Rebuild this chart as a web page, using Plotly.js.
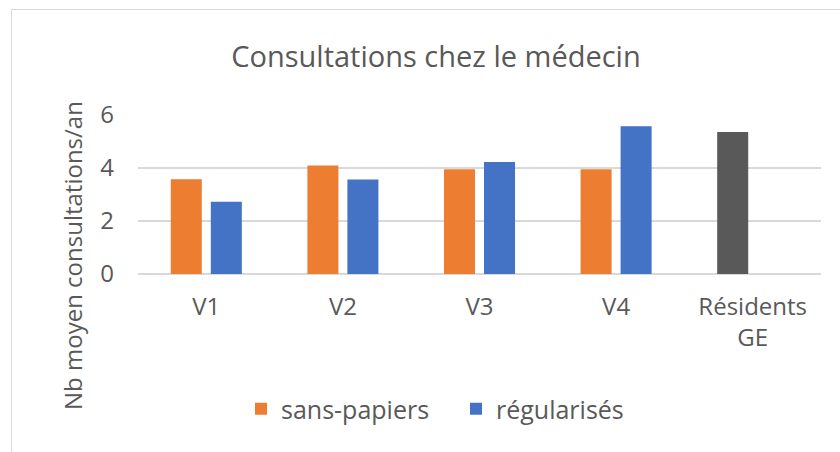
<!DOCTYPE html>
<html>
<head>
<meta charset="utf-8">
<script src="https://cdn.plot.ly/plotly-3.0.1.min.js"></script>
<style>
  html, body { margin: 0; padding: 0; overflow: hidden; background: #fff; }
  #wrap { position: relative; width: 840px; height: 452px; }
  #frame { position: absolute; left: 11px; top: 9px; width: 900px; height: 500px;
           border: 1.5px solid #d9d9d9; pointer-events: none; }
</style>
</head>
<body>
<div id="wrap">
  <div id="chart" style="width:840px;height:452px;"></div>
  <div id="frame"></div>
</div>
<script>
// ---- data ----
const categories = ['V1', 'V2', 'V3', 'V4', 'Résidents<br>GE'];
const sansPapiers = [3.58, 4.09, 3.95, 3.95, 5.36];
const regularises = [2.73, 3.57, 4.23, 5.58, null];
const seriesNames = ['sans-papiers', 'régularisés'];
const title = 'Consultations chez le médecin';
const yTitle = 'Nb moyen consultations/an';

const ORANGE = '#ED7D31', BLUE = '#4472C4', GREY = '#595959';
const orangeColors = categories.map((c, i) => i === categories.length - 1 ? GREY : ORANGE);

const FONT = '"Open Sans", sans-serif';
const TXT = '#595959';

const traces = [
  { type: 'bar', name: seriesNames[0], x: categories, y: sansPapiers,
    marker: { color: orangeColors }, hoverinfo: 'x+y' },
  { type: 'bar', name: seriesNames[1], x: categories, y: regularises,
    marker: { color: BLUE }, hoverinfo: 'x+y' }
];

const layout = {
  width: 840, height: 452,
  margin: { l: 138, r: 19, t: 115, b: 178 },
  paper_bgcolor: '#ffffff', plot_bgcolor: '#ffffff',
  font: { family: FONT, color: TXT, size: 24 },
  title: { text: title, font: { family: FONT, size: 29, color: TXT },
           xref: 'container', x: 0.519, xanchor: 'center',
           yref: 'container', y: 1 - 57 / 452, yanchor: 'middle' },
  barmode: 'group', bargap: 0.414, bargroupgap: 0.225,
  xaxis: { type: 'category', showgrid: false, zeroline: false, showline: false,
           ticks: '', tickfont: { family: FONT, size: 24, color: TXT },
           ticklabelstandoff: 16, fixedrange: true },
  yaxis: { range: [0, 6], dtick: 2, tick0: 0, showgrid: true, gridcolor: '#d9d9d9', gridwidth: 1.5,
           zeroline: true, zerolinecolor: '#d9d9d9', zerolinewidth: 1.5, showline: false,
           ticks: '', tickfont: { family: FONT, size: 24, color: TXT },
           ticklabelstandoff: 23, fixedrange: true },
  showlegend: true,
  legend: { orientation: 'h', xref: 'container', yref: 'container',
            x: 456 / 840, xanchor: 'center', y: 1 - 409 / 452, yanchor: 'middle',
            entrywidth: 170, entrywidthmode: 'pixels',
            font: { family: FONT, size: 25, color: TXT }, itemclick: false, itemdoubleclick: false },
  annotations: [
    { text: yTitle, xref: 'paper', yref: 'paper', x: (72 - 138) / 683, y: (274 - 256) / 159,
      xanchor: 'center', yanchor: 'middle', textangle: -90, showarrow: false,
      font: { family: FONT, size: 24, color: TXT } }
  ]
};

Plotly.newPlot('chart', traces, layout, { displayModeBar: false });
</script>
</body>
</html>
